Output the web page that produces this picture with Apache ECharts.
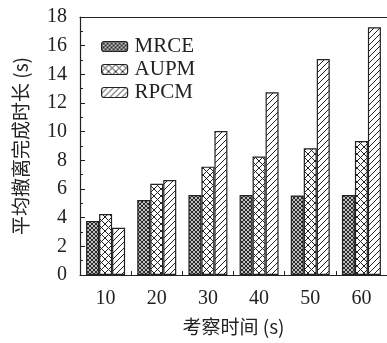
<!DOCTYPE html>
<html>
<head>
<meta charset="utf-8">
<script src="https://cdn.jsdelivr.net/npm/echarts@6/dist/echarts.min.js"></script>
<style>html,body{margin:0;padding:0;background:#fff;}#c{width:387px;height:343px;}</style>
</head>
<body>
<div id="c"></div>
<script>
const categories = ['10', '20', '30', '40', '50', '60'];
const seriesNames = ['MRCE', 'AUPM', 'RPCM'];
const mrce = [3.77, 5.23, 5.58, 5.58, 5.55, 5.58];
const aupm = [4.26, 6.37, 7.56, 8.26, 8.84, 9.35];
const rpcm = [3.30, 6.63, 10.05, 12.75, 15.07, 17.28];
const yTicks = [0, 2, 4, 6, 8, 10, 12, 14, 16, 18];

function makePattern(size, dirs, lw) {
  const c = document.createElement('canvas');
  c.width = size; c.height = size;
  const g = c.getContext('2d');
  g.fillStyle = '#fff';
  g.fillRect(0, 0, size, size);
  g.strokeStyle = '#222';
  g.lineWidth = lw;
  dirs.forEach(function (d) {
    g.beginPath();
    if (d === '/') {
      for (let k = -1; k <= 1; k++) {
        g.moveTo(k * size, size);
        g.lineTo(k * size + size, 0);
      }
    } else {
      for (let k = -1; k <= 1; k++) {
        g.moveTo(k * size, 0);
        g.lineTo(k * size + size, size);
      }
    }
    g.stroke();
  });
  return { image: c, repeat: 'repeat' };
}

const patMRCE = makePattern(4, ['/', '\\'], 1.1);
const patAUPM = makePattern(7, ['/', '\\'], 1);
const patRPCM = makePattern(6, ['/'], 1);

const serif = '"Liberation Serif", "DejaVu Serif", serif';
const chart = echarts.init(document.getElementById('c'), null, { renderer: 'canvas' });

function barSeries(name, data, pat) {
  return {
    name: name,
    type: 'bar',
    data: data,
    barWidth: 13,
    barGap: '0%',
    itemStyle: { color: pat, borderColor: '#222', borderWidth: 1.2 }
  };
}

chart.setOption({
  animation: false,
  backgroundColor: '#fff',
  grid: { left: 80, top: 17, width: 309, bottom: 68 },
  legend: {
    orient: 'vertical',
    left: 96,
    top: 31,
    itemWidth: 26,
    itemHeight: 10,
    itemGap: 2,
    data: seriesNames,
    textStyle: { fontFamily: serif, fontSize: 21, color: '#222', padding: [0, 0, 0, 2] },
    itemStyle: { borderColor: '#222', borderWidth: 1.2 }
  },
  xAxis: [{
    type: 'category',
    data: categories,
    name: '考察时间 (s)',
    nameLocation: 'middle',
    nameGap: 42,
    nameTextStyle: { fontFamily: '"Noto Sans CJK SC"', fontSize: 19, color: '#222' },
    axisLine: { lineStyle: { color: '#222', width: 1.2 } },
    axisTick: { show: true, inside: true, length: 4, lineStyle: { color: '#222' } },
    axisLabel: { fontFamily: serif, fontSize: 20, color: '#222', margin: 14 }
  }, {
    type: 'category',
    data: categories,
    position: 'top',
    axisLine: { show: true, lineStyle: { color: '#222', width: 1.2 } },
    axisTick: { show: false },
    axisLabel: { show: false }
  }],
  yAxis: {
    type: 'value',
    min: 0,
    max: 18,
    interval: 2,
    name: '平均撤离完成时长 (s)',
    nameLocation: 'middle',
    nameGap: 50,
    nameTextStyle: { fontFamily: '"Noto Sans CJK SC"', fontSize: 19, color: '#222' },
    axisLine: { show: true, lineStyle: { color: '#222', width: 1.2 } },
    axisTick: { show: true, inside: true, length: 5, lineStyle: { color: '#222' } },
    minorTick: { show: true, splitNumber: 2, length: 3, lineStyle: { color: '#222' } },
    splitLine: { show: false },
    axisLabel: {
      fontFamily: serif, fontSize: 20, color: '#222', margin: 13,
      formatter: function (v) { return yTicks.indexOf(v) >= 0 ? String(v) : ''; }
    }
  },
  series: [
    barSeries('MRCE', mrce, patMRCE),
    barSeries('AUPM', aupm, patAUPM),
    barSeries('RPCM', rpcm, patRPCM)
  ]
});
</script>
</body>
</html>
